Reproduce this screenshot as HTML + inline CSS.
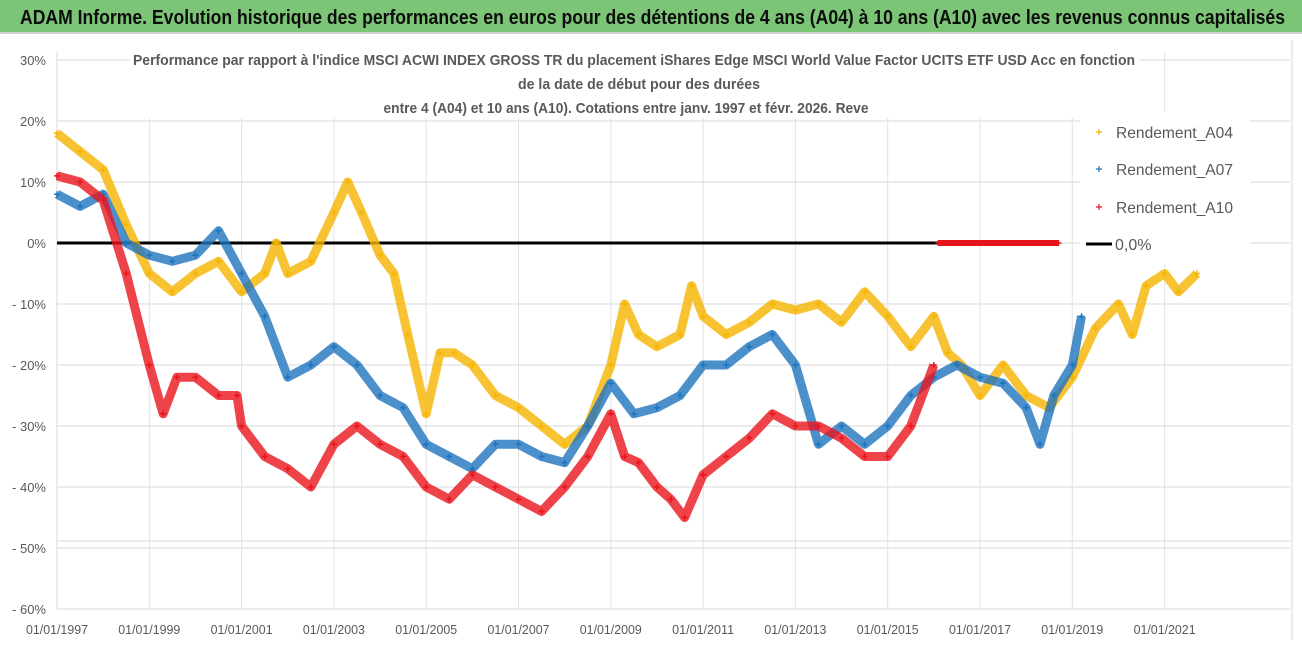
<!DOCTYPE html>
<html><head><meta charset="utf-8"><style>
body{margin:0;background:#fff;font-family:"Liberation Sans",sans-serif}
#wrap{position:relative;width:1302px;height:647px;overflow:hidden}
svg{position:absolute;left:0;top:0}
</style></head><body><div id="wrap">
<svg id="chart" width="1302" height="647">
<rect x="0" y="0" width="1302" height="32" fill="#7cc576"/>
<line x1="0" x2="1302" y1="33" y2="33" stroke="#d0d0d0" stroke-width="2"/>
<text x="20" y="24" font-size="20" font-weight="bold" fill="#0d0d0d" textLength="1265" lengthAdjust="spacingAndGlyphs">ADAM Informe. Evolution historique des performances en euros pour des détentions de 4 ans (A04) à 10 ans (A10) avec les revenus connus capitalisés</text>
</svg>
</div>
<script>
const yTicks=[30,20,10,0,-10,-20,-30,-40,-50,-60];
const xTickYears=[1997,1999,2001,2003,2005,2007,2009,2011,2013,2015,2017,2019,2021];
const a04Years=[1997,1997.5,1998,1998.5,1999,1999.5,2000,2000.5,2001,2001.5,2001.75,2002,2002.5,2003,2003.3,2003.6,2004,2004.3,2004.6,2005,2005.3,2005.6,2006,2006.5,2007,2007.5,2008,2008.5,2009,2009.3,2009.6,2010,2010.5,2010.75,2011,2011.5,2012,2012.5,2013,2013.5,2014,2014.5,2015,2015.5,2016,2016.3,2016.6,2017,2017.5,2018,2018.5,2019,2019.5,2020,2020.3,2020.6,2021,2021.3,2021.7];
const a04Values=[18,15,12,3,-5,-8,-5,-3,-8,-5,0,-5,-3,5,10,5,-2,-5,-15,-28,-18,-18,-20,-25,-27,-30,-33,-30,-20,-10,-15,-17,-15,-7,-12,-15,-13,-10,-11,-10,-13,-8,-12,-17,-12,-18,-20,-25,-20,-25,-27,-22,-14,-10,-15,-7,-5,-8,-5];
const a07Years=[1997,1997.5,1998,1998.5,1999,1999.5,2000,2000.5,2001,2001.5,2002,2002.5,2003,2003.5,2004,2004.5,2005,2005.5,2006,2006.5,2007,2007.5,2008,2008.5,2009,2009.5,2010,2010.5,2011,2011.5,2012,2012.5,2013,2013.5,2014,2014.5,2015,2015.5,2016,2016.5,2017,2017.5,2018,2018.3,2018.6,2019,2019.2];
const a07Values=[8,6,8,0,-2,-3,-2,2,-5,-12,-22,-20,-17,-20,-25,-27,-33,-35,-37,-33,-33,-35,-36,-30,-23,-28,-27,-25,-20,-20,-17,-15,-20,-33,-30,-33,-30,-25,-22,-20,-22,-23,-27,-33,-25,-20,-12];
const a10Years=[1997,1997.5,1998,1998.5,1999,1999.3,1999.6,2000,2000.5,2000.9,2001,2001.5,2002,2002.5,2003,2003.5,2004,2004.5,2005,2005.5,2006,2006.5,2007,2007.5,2008,2008.5,2009,2009.3,2009.6,2010,2010.3,2010.6,2011,2011.5,2012,2012.5,2013,2013.5,2014,2014.5,2015,2015.5,2016];
const a10Values=[11,10,7,-5,-20,-28,-22,-22,-25,-25,-30,-35,-37,-40,-33,-30,-33,-35,-40,-42,-38,-40,-42,-44,-40,-35,-28,-35,-36,-40,-42,-45,-38,-35,-32,-28,-30,-30,-32,-35,-35,-30,-20];
const a10ZeroYears=[2016.1,2016.3,2016.5,2016.7,2016.9,2017.1,2017.3,2017.5,2017.7,2017.9,2018.1,2018.3,2018.5,2018.7,2026.1];
const a10ZeroValues=[0,0,0,0,0,0,0,0,0,0,0,0,0,0,0];

const NS="http://www.w3.org/2000/svg";
const svg=document.getElementById('chart');
const X0=57,PX_YEAR=46.15,Y0=243,PX_PCT=6.1;
const xs=y=>X0+(y-1997)*PX_YEAR;
const ys=v=>Y0-v*PX_PCT;
function mk(tag,attrs,parent){const e=document.createElementNS(NS,tag);for(const k in attrs)e.setAttribute(k,attrs[k]);(parent||svg).appendChild(e);return e;}

const grid=mk('g',{});


yTicks.forEach(t=>{
  mk('line',{x1:X0,x2:1290,y1:ys(t),y2:ys(t),stroke:'#d9d9d9','stroke-width':1},grid);
  const lb=mk('text',{x:46,y:ys(t)+5,'text-anchor':'end','font-size':13,fill:'#595959'});
  lb.textContent=(t<0?'- '+(-t):t)+'%';
  
  
});
mk('line',{x1:X0,x2:1290,y1:541,y2:541,stroke:'#d9d9d9','stroke-width':1},grid);
xTickYears.forEach(yr=>{
  mk('line',{x1:xs(yr),x2:xs(yr),y1:52,y2:609,stroke:'#e3e3e3','stroke-width':1},grid);
  const lb=mk('text',{x:xs(yr),y:634,'text-anchor':'middle','font-size':13,fill:'#595959',textLength:62,lengthAdjust:'spacingAndGlyphs'});
  lb.textContent='01/01/'+yr;
  
  
});
mk('line',{x1:X0,x2:X0,y1:52,y2:609,stroke:'#d9d9d9'},grid);
mk('line',{x1:1292,x2:1292,y1:40,y2:640,stroke:'#d9d9d9'},grid);

const tl=[['Performance par rapport à l\'indice MSCI ACWI INDEX GROSS TR  du placement iShares Edge MSCI World Value Factor UCITS ETF USD Acc en fonction',1002,634],['de la date de début pour des durées',242,639],['entre 4 (A04) et 10 ans (A10).  Cotations entre janv. 1997 et févr. 2026. Reve',485,626]];
const tg=mk('g',{});


mk('rect',{x:130,y:46,width:1010,height:72,fill:'#fff'},tg);
tl.forEach(([s,w,cx],i)=>{const t=mk('text',{x:cx,y:65+i*24,'text-anchor':'middle','font-size':15,'font-weight':'bold',fill:'#595959',textLength:w,lengthAdjust:'spacingAndGlyphs'},tg);t.textContent=s;});

const zl=mk('line',{x1:X0,x2:xs(2016.1),y1:Y0,y2:Y0,stroke:'#000','stroke-width':3});



function series(name,yrs,vals,color,band){
  const g=mk('g',{});
  
  
  if(band){mk('polyline',{points:yrs.map((y,i)=>xs(y)+','+ys(vals[i])).join(' '),fill:'none',stroke:color,'stroke-width':9,'stroke-opacity':0.8,'stroke-linejoin':'round'},g);}
  yrs.forEach((y,i)=>{
    const cx=xs(y),cy=ys(vals[i]);
    const p=mk('path',{d:`M${cx-3},${cy}H${cx+3}M${cx},${cy-3}V${cy+3}`,stroke:color,'stroke-width':1.5},g);
    
    
  });
}
series('series-a04',a04Years,a04Values,'#f5b400',true);
series('series-a07',a07Years,a07Values,'#1e73be',true);
series('series-a10',a10Years,a10Values,'#e8141c',true);
const zr=mk('rect',{x:xs(2016.1),y:Y0-3,width:xs(2018.7)-xs(2016.1),height:6,fill:'#e8141c'});


series('series-a10-zero',a10ZeroYears,a10ZeroValues,'#e8141c',false);

const lg=mk('g',{});


mk('rect',{x:1080,y:112,width:170,height:152,fill:'#fff'},lg);
[['Rendement_A04','#f5b400',132],['Rendement_A07','#1e73be',169],['Rendement_A10','#e8141c',207]].forEach(([n,c,y])=>{
  const it=mk('g',{},lg);
  
  
  mk('path',{d:`M1096,${y}H1102M1099,${y-3}V${y+3}`,stroke:c,'stroke-width':1.2},it);
  const t=mk('text',{x:1116,y:y+6,'font-size':16,fill:'#595959',textLength:117,lengthAdjust:'spacingAndGlyphs'},it);t.textContent=n;
});
const z=mk('g',{},lg);


mk('line',{x1:1086,x2:1112,y1:244,y2:244,stroke:'#000','stroke-width':3},z);
const zt=mk('text',{x:1115,y:250,'font-size':16,fill:'#595959'},z);zt.textContent='0,0%';
</script></body></html>
